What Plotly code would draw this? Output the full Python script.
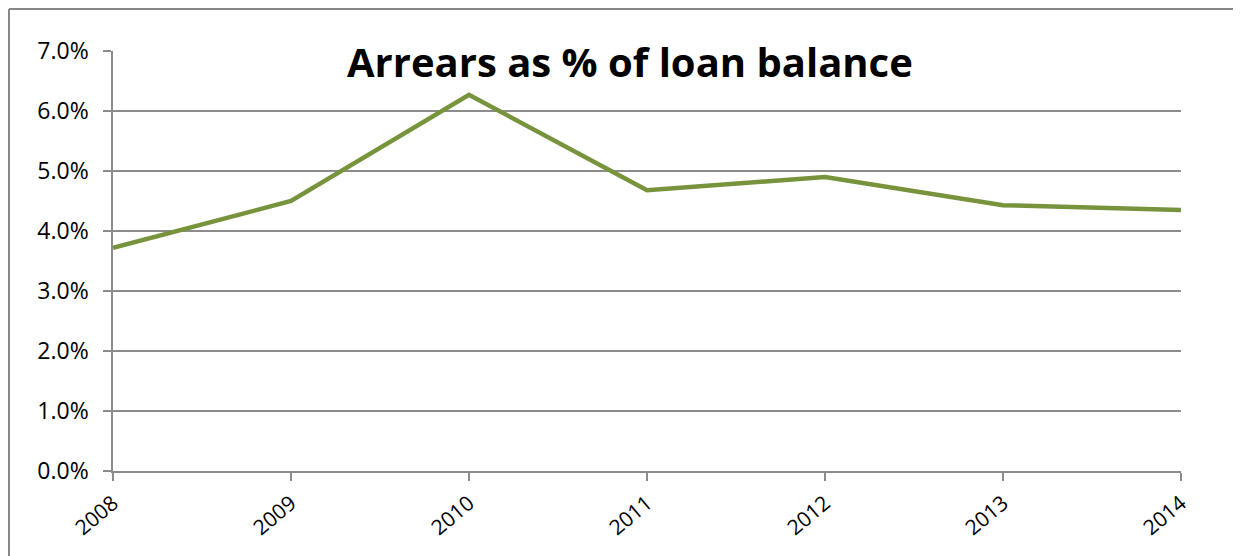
import plotly.graph_objects as go

years = [2008, 2009, 2010, 2011, 2012, 2013, 2014]
arrears_pct = [3.72, 4.50, 6.27, 4.68, 4.90, 4.43, 4.35]
y_ticks = [0, 1, 2, 3, 4, 5, 6, 7]
y_tick_labels = ["0.0%", "1.0%", "2.0%", "3.0%", "4.0%", "5.0%", "6.0%", "7.0%"]
title_text = "Arrears as % of loan balance"

fig = go.Figure()
fig.add_trace(go.Scatter(
    x=years, y=arrears_pct, mode="lines",
    line=dict(color="#77933C", width=4.5),
    hoverinfo="x+y",
))

axis_grey = "#8c8c8c"
border = dict(color="#878787", width=2)
fig.update_layout(
    width=1233, height=548,
    margin=dict(l=105, r=60, t=43, b=85),
    paper_bgcolor="white", plot_bgcolor="white",
    showlegend=False,
    font=dict(family="Open Sans", color="black"),
    xaxis=dict(
        range=[2008, 2014], tickmode="array", tickvals=years,
        ticktext=[str(y) for y in years],
        tickangle=-40, ticks="outside", ticklen=8, tickcolor=axis_grey, tickwidth=1.5,
        showline=True, linecolor=axis_grey, linewidth=1.5,
        showgrid=False, zeroline=False, ticklabelstandoff=2,
        tickfont=dict(size=21, family="Open Sans", color="black"),
    ),
    yaxis=dict(
        range=[0, 7], tickmode="array", tickvals=y_ticks, ticktext=y_tick_labels,
        ticks="outside", ticklen=8, tickcolor=axis_grey, tickwidth=1.5,
        showline=True, linecolor=axis_grey, linewidth=1.5,
        showgrid=True, gridcolor=axis_grey, gridwidth=1.5, zeroline=False,
        ticklabelstandoff=10,
        tickfont=dict(size=23, family="Open Sans", color="black"),
    ),
    annotations=[dict(
        text="<b>" + title_text + "</b>", xref="paper", yref="paper",
        x=0.484, y=0.974, xanchor="center", yanchor="middle", showarrow=False,
        font=dict(size=40, family="Open Sans", color="black"),
    )],
    shapes=[
        dict(type="line", xref="paper", yref="paper", x0=-0.0974, x1=-0.0974,
             y0=-0.3, y1=1.1, line=border, layer="below"),
        dict(type="line", xref="paper", yref="paper", x0=-0.0974, x1=1.2,
             y0=1.1, y1=1.1, line=border, layer="below"),
    ],
)

fig.write_html("out.html")
